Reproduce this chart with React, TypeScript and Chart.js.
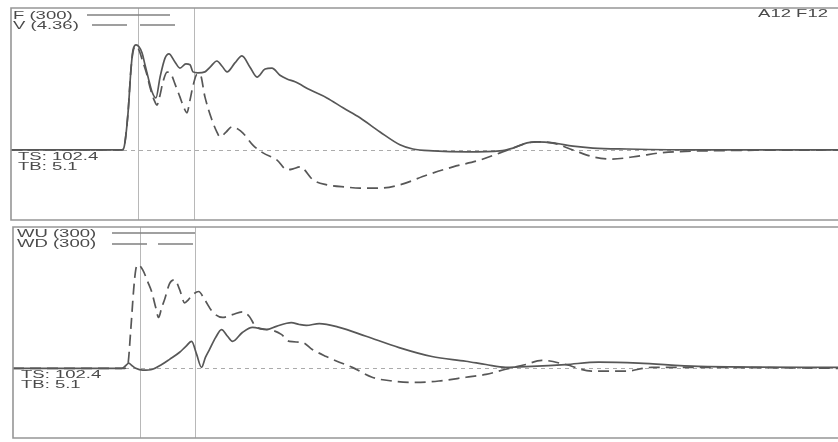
import { useEffect, useRef } from "react";
import { Chart, registerables } from "chart.js";

Chart.register(...registerables);

type Pt = [number, number];

// Record window (ms) and the two reference times marked on both traces
const TIME_SPAN_MS = 40;
const MARKER_TIMES_MS = [6.14, 8.83];

// Full-scale values shown in the legends
const FORCE_SCALE_KN = 300;
const VELOCITY_SCALE_MS = 4.36;
const WAVE_SCALE_KN = 300;
// Portion of full scale visible below the zero line
const BELOW_ZERO_FRACTION = 148 / 300;

const TS_LABEL = "TS: 102.4";
const TB_LABEL = "TB: 5.1";
const RECORD_ID = "A12 F12";

// Force at gauges, kN  [time ms, value]
const FORCE_KN: Pt[] = [
  [0, 0], [5.37, 0], [5.47, 6], [5.66, 78], [5.8, 169], [5.9, 211], [6.05, 222],
  [6.19, 218], [6.34, 205], [6.48, 180], [6.63, 154], [6.82, 123], [7.01, 110],
  [7.21, 154], [7.45, 194], [7.64, 203], [7.93, 186], [8.17, 173], [8.46, 182],
  [8.66, 180], [8.8, 165], [9.04, 163], [9.38, 165], [9.63, 175], [9.96, 188],
  [10.21, 177], [10.45, 165], [10.83, 184], [11.17, 199], [11.56, 175], [11.9, 154],
  [12.29, 171], [12.62, 173], [13.01, 158], [13.35, 150], [13.74, 144], [14.46, 127],
  [15.28, 110], [16.06, 89], [16.88, 68], [17.85, 38], [18.81, 11], [19.44, 2],
  [20.41, -2], [22.06, -4], [23.65, -2], [24.28, 4], [24.96, 15], [25.44, 17],
  [26.22, 15], [27.18, 8], [28.15, 4], [29.79, 2], [33.33, 0], [40, 0],
];

// Velocity at gauges, m/s
const VELOCITY_MS: Pt[] = [
  [0, 0], [5.37, 0], [5.47, 0.09], [5.66, 1.14], [5.8, 2.46], [5.9, 3.01], [6.05, 3.19],
  [6.19, 3.07], [6.38, 2.7], [6.58, 2.3], [6.72, 1.93], [6.92, 1.54], [7.06, 1.38],
  [7.21, 1.69], [7.35, 2.09], [7.55, 2.39], [7.74, 2.33], [7.93, 2.03], [8.17, 1.63],
  [8.37, 1.29], [8.51, 1.14], [8.66, 1.54], [8.8, 1.96], [9.0, 2.33], [9.14, 2.33],
  [9.38, 1.63], [9.72, 0.92], [9.96, 0.55], [10.11, 0.4], [10.4, 0.55], [10.69, 0.71],
  [10.98, 0.64], [11.22, 0.52], [11.7, 0.15], [12.19, -0.09], [12.87, -0.31],
  [13.35, -0.61], [13.64, -0.58], [13.98, -0.52], [14.61, -0.92], [15.28, -1.07],
  [16.2, -1.14], [16.88, -1.17], [17.85, -1.17], [18.81, -1.07], [20.12, -0.77],
  [21.38, -0.52], [22.68, -0.31], [23.65, -0.09], [24.28, 0.06], [24.96, 0.21],
  [25.44, 0.25], [26.22, 0.21], [27.18, 0], [28.15, -0.21], [29.07, -0.28],
  [30.42, -0.18], [31.39, -0.09], [33.33, -0.03], [40, 0],
];

// Upward travelling wave, kN
const WAVE_UP_KN: Pt[] = [
  [0, 0], [5.27, 0], [5.47, 6], [5.61, 11], [5.76, 6], [5.95, 0], [6.29, -4],
  [6.77, -2], [7.21, 8], [7.59, 19], [8.08, 34], [8.37, 46], [8.66, 57], [8.9, 30],
  [9.14, 2], [9.33, 23], [9.53, 40], [9.82, 65], [10.11, 82], [10.4, 68], [10.64, 57],
  [11.12, 76], [11.61, 87], [12.29, 82], [12.77, 89], [13.49, 97], [13.88, 93],
  [14.22, 91], [14.85, 95], [15.82, 87], [17.12, 68], [18.72, 44], [20.31, 25],
  [21.96, 15], [22.93, 8], [23.89, 2], [25.15, 4], [26.8, 8], [28.39, 13], [30.33, 11],
  [33.23, 4], [40, 2],
];

// Downward travelling wave, kN
const WAVE_DOWN_KN: Pt[] = [
  [0, 0], [5.42, 0], [5.56, 6], [5.71, 82], [5.85, 167], [5.95, 209], [6.05, 220],
  [6.29, 209], [6.53, 184], [6.72, 163], [6.92, 129], [7.06, 108], [7.21, 129],
  [7.35, 146], [7.59, 180], [7.84, 188], [8.08, 167], [8.32, 139], [8.51, 146],
  [8.71, 156], [9.0, 163], [9.29, 146], [9.67, 120], [10.16, 108], [10.64, 114],
  [11.12, 120], [11.46, 110], [11.8, 87], [12.43, 82], [13.01, 72], [13.4, 57],
  [14.03, 55], [14.51, 40], [15.19, 25], [15.82, 13], [16.45, 2], [17.41, -19],
  [18.38, -27], [19.54, -30], [20.65, -27], [21.96, -19], [22.93, -13], [23.89, -2],
  [24.86, 8], [25.64, 17], [26.8, 8], [28.05, -6], [29.7, -6], [30.96, 2], [33.23, 2],
  [40, 0],
];

const INK = "#575757";
const TEXT_INK = "#4a4a4a";
const FRAME = "#969696";
const TEXT_STRETCH = 1.85;
const FONT = "10px 'Liberation Sans', Arial, sans-serif";

type LegendEntry = { label: string; dash: number[]; x0: number; x1: number; dy: number };

type PanelDecor = {
  legend: LegendEntry[];
  legendX: number;
  legendBase: number;
  statsX: number;
  showId: boolean;
};

function stretchedText(ctx: CanvasRenderingContext2D, text: string, x: number, y: number, align: "left" | "right" = "left") {
  ctx.save();
  ctx.font = FONT;
  const w = ctx.measureText(text).width * TEXT_STRETCH;
  const left = align === "right" ? x - w : x;
  ctx.translate(left, y);
  ctx.scale(TEXT_STRETCH, 1);
  ctx.fillStyle = TEXT_INK;
  ctx.textBaseline = "alphabetic";
  ctx.fillText(text, 0, 0);
  ctx.restore();
}

function decorPlugin(cfg: PanelDecor) {
  return {
    id: "panelDecor",
    beforeDatasetsDraw(chart: Chart) {
      const { ctx, chartArea: a, scales } = chart;
      const y0 = Math.round(scales.y.getPixelForValue(0)) + 0.5;
      ctx.save();
      ctx.lineWidth = 1;
      ctx.strokeStyle = "#ababab";
      ctx.setLineDash([4, 4]);
      ctx.beginPath();
      ctx.moveTo(a.left, y0);
      ctx.lineTo(a.right, y0);
      ctx.stroke();
      ctx.setLineDash([]);
      ctx.strokeStyle = "#b8b8b8";
      for (const t of MARKER_TIMES_MS) {
        const x = Math.round(scales.x.getPixelForValue(t)) + 0.5;
        ctx.beginPath();
        ctx.moveTo(x, a.top);
        ctx.lineTo(x, a.bottom);
        ctx.stroke();
      }
      ctx.restore();
    },
    afterDatasetsDraw(chart: Chart) {
      const { ctx, chartArea: a, scales } = chart;
      const y0 = scales.y.getPixelForValue(0);
      ctx.save();
      // panel frame (open on the right)
      ctx.strokeStyle = FRAME;
      ctx.lineWidth = 1.6;
      ctx.beginPath();
      ctx.moveTo(a.right, a.top);
      ctx.lineTo(a.left, a.top);
      ctx.lineTo(a.left, a.bottom);
      ctx.lineTo(a.right, a.bottom);
      ctx.stroke();

      // legend
      cfg.legend.forEach((e, i) => {
        const base = a.top + cfg.legendBase + i * 10;
        stretchedText(ctx, e.label, a.left + cfg.legendX, base);
        ctx.strokeStyle = "#808080";
        ctx.lineWidth = 1.4;
        ctx.setLineDash(e.dash);
        ctx.beginPath();
        ctx.moveTo(a.left + e.x0, base - e.dy);
        ctx.lineTo(a.left + e.x1, base - e.dy);
        ctx.stroke();
        ctx.setLineDash([]);
      });

      // set statistics under the zero line
      stretchedText(ctx, TS_LABEL, a.left + cfg.statsX, y0 + 10);
      stretchedText(ctx, TB_LABEL, a.left + cfg.statsX, y0 + 20);

      if (cfg.showId) stretchedText(ctx, RECORD_ID, a.right - 10, a.top + 9, "right");
      ctx.restore();
    },
  };
}

function trace(points: Pt[], dashed: boolean, axis = "y") {
  return {
    data: points.map(([x, y]) => ({ x, y })),
    yAxisID: axis,
    borderColor: INK,
    borderWidth: 1.7,
    borderDash: dashed ? [11, 6] : [],
    pointRadius: 0,
    fill: false,
    cubicInterpolationMode: "monotone" as const,
  };
}

function baseOptions(padding: { left: number; right: number; top: number; bottom: number }, yMax: number, extraScales: Record<string, unknown> = {}) {
  return {
    responsive: false,
    animation: false as const,
    events: [],
    layout: { padding },
    plugins: { legend: { display: false }, tooltip: { enabled: false }, title: { display: false } },
    scales: {
      x: { type: "linear" as const, min: 0, max: TIME_SPAN_MS, display: false },
      y: { type: "linear" as const, min: -yMax * BELOW_ZERO_FRACTION, max: yMax, display: false },
      ...extraScales,
    },
  };
}

export default function App() {
  const topRef = useRef<HTMLCanvasElement>(null);
  const bottomRef = useRef<HTMLCanvasElement>(null);

  useEffect(() => {
    const top = new Chart(topRef.current!, {
      type: "line",
      data: {
        datasets: [
          trace(FORCE_KN, false),
          trace(VELOCITY_MS, true, "yV"),
        ],
      },
      options: baseOptions({ left: 11, right: 0, top: 8, bottom: 2 }, FORCE_SCALE_KN, {
        yV: {
          type: "linear",
          min: -VELOCITY_SCALE_MS * BELOW_ZERO_FRACTION,
          max: VELOCITY_SCALE_MS,
          display: false,
        },
      }) as any,
      plugins: [
        decorPlugin({
          legend: [
            { label: `F (${FORCE_SCALE_KN})`, dash: [], x0: 76, x1: 159, dy: 4 },
            { label: `V (${VELOCITY_SCALE_MS})`, dash: [35, 13], x0: 81, x1: 168, dy: 4 },
          ],
          legendX: 2,
          legendBase: 11,
          statsX: 7,
          showId: true,
        }),
      ],
    });

    const bottom = new Chart(bottomRef.current!, {
      type: "line",
      data: {
        datasets: [
          trace(WAVE_UP_KN, false),
          trace(WAVE_DOWN_KN, true),
        ],
      },
      options: baseOptions({ left: 13, right: 0, top: 5, bottom: 4 }, WAVE_SCALE_KN) as any,
      plugins: [
        decorPlugin({
          legend: [
            { label: `WU (${WAVE_SCALE_KN})`, dash: [], x0: 99, x1: 182, dy: 4 },
            { label: `WD (${WAVE_SCALE_KN})`, dash: [35, 11], x0: 99, x1: 182, dy: 3 },
          ],
          legendX: 4,
          legendBase: 10,
          statsX: 8,
          showId: false,
        }),
      ],
    });

    return () => {
      top.destroy();
      bottom.destroy();
    };
  }, []);

  return (
    <div
      style={{
        position: "absolute",
        left: 0,
        top: 0,
        width: 838,
        height: 442,
        background: "#ffffff",
        overflow: "hidden",
      }}
    >
      <canvas ref={topRef} width={838} height={222} style={{ position: "absolute", left: 0, top: 0 }} />
      <canvas ref={bottomRef} width={838} height={220} style={{ position: "absolute", left: 0, top: 222 }} />
    </div>
  );
}
